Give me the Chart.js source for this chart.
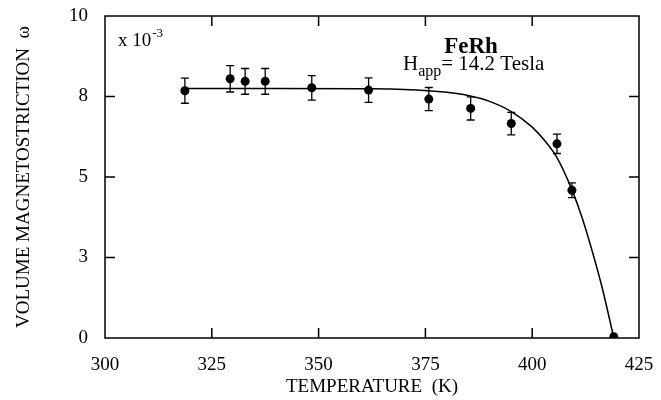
<!DOCTYPE html>
<html>
<head>
<meta charset="utf-8">
<script src="https://cdn.jsdelivr.net/npm/chart.js@4.4.1/dist/chart.umd.min.js"></script>
<style>
  html, body { margin: 0; padding: 0; background: #fff; }
  #wrap { width: 661px; height: 400px; position: relative; }
</style>
</head>
<body>
<div id="wrap"><canvas id="c" width="661" height="400"></canvas></div>
<script>
// Measured data points (temperature K, volume magnetostriction x10^-3, error)
const temps  = [318.7, 329.3, 332.8, 337.5, 348.4, 361.7, 375.8, 385.6, 395.1, 405.8, 409.3, 419.1];
const values = [7.68, 8.05, 7.97, 7.97, 7.77, 7.70, 7.42, 7.13, 6.66, 6.03, 4.59, 0.04];
const errors = [0.39, 0.41, 0.40, 0.40, 0.38, 0.38, 0.36, 0.36, 0.35, 0.30, 0.23, 0];

// Fitted curve
const curveT = [318.7, 340, 360, 370, 380, 385, 390, 395, 400, 403, 405.8, 409.3, 411.8, 414.6, 416.5, 418.95];
const curveV = [7.75, 7.75, 7.74, 7.72, 7.63, 7.53, 7.35, 7.04, 6.55, 6.12, 5.6, 4.6, 3.69, 2.44, 1.5, 0.09];

// Axis ticks
const xTicks = [300, 325, 350, 375, 400, 425];
const yTickValues = [0, 2.5, 5, 7.5, 10];
const yTickLabels = ['0', '3', '5', '8', '10'];

const FONT = "'Liberation Serif', 'Times New Roman', serif";

const decorPlugin = {
  id: 'decor',
  afterDatasetsDraw(chart) {
    const ctx = chart.ctx;
    const xs = chart.scales.x, ys = chart.scales.y;
    const a = chart.chartArea;
    ctx.save();
    ctx.strokeStyle = '#000';
    ctx.fillStyle = '#000';
    // error bars
    ctx.lineWidth = 1.3;
    for (let i = 0; i < temps.length; i++) {
      if (!errors[i]) continue;
      const px = xs.getPixelForValue(temps[i]);
      const top = ys.getPixelForValue(values[i] + errors[i]);
      const bot = ys.getPixelForValue(values[i] - errors[i]);
      ctx.beginPath();
      ctx.moveTo(px, top); ctx.lineTo(px, bot);
      ctx.moveTo(px - 4, top); ctx.lineTo(px + 4, top);
      ctx.moveTo(px - 4, bot); ctx.lineTo(px + 4, bot);
      ctx.stroke();
    }
    // frame
    ctx.lineWidth = 1.5;
    ctx.strokeRect(a.left, a.top, a.right - a.left, a.bottom - a.top);
    // inward ticks
    const tl = 10;
    ctx.beginPath();
    xTicks.forEach(v => {
      if (v === xs.min || v === xs.max) return;
      const px = xs.getPixelForValue(v);
      ctx.moveTo(px, a.bottom); ctx.lineTo(px, a.bottom - tl);
      ctx.moveTo(px, a.top); ctx.lineTo(px, a.top + tl);
    });
    yTickValues.forEach(v => {
      if (v === ys.min || v === ys.max) return;
      const py = ys.getPixelForValue(v);
      ctx.moveTo(a.left, py); ctx.lineTo(a.left + tl, py);
      ctx.moveTo(a.right, py); ctx.lineTo(a.right - tl, py);
    });
    ctx.stroke();
    // annotations
    ctx.textBaseline = 'alphabetic';
    ctx.textAlign = 'left';
    ctx.font = "19px " + FONT;
    ctx.fillText('x 10', 118, 46);
    const w1 = ctx.measureText('x 10').width;
    ctx.font = "13px " + FONT;
    ctx.fillText('-3', 119 + w1, 37);
    ctx.textAlign = 'center';
    ctx.font = "bold 23px " + FONT;
    ctx.fillText('FeRh', 471, 53);
    ctx.textAlign = 'left';
    let x0 = 403;
    ctx.font = "21px " + FONT;
    ctx.fillText('H', x0, 70);
    x0 += ctx.measureText('H').width;
    ctx.font = "16px " + FONT;
    ctx.fillText('app', x0, 76);
    x0 += ctx.measureText('app').width;
    ctx.font = "21px " + FONT;
    ctx.fillText('= 14.2 Tesla', x0, 70);
    ctx.restore();
  }
};

new Chart(document.getElementById('c'), {
  data: {
    datasets: [
      {
        type: 'line',
        data: curveT.map((t, i) => ({ x: t, y: curveV[i] })),
        borderColor: '#000',
        borderWidth: 1.5,
        pointRadius: 0,
        cubicInterpolationMode: 'monotone',
        fill: false
      },
      {
        type: 'scatter',
        data: temps.map((t, i) => ({ x: t, y: values[i] })),
        backgroundColor: '#000',
        borderColor: '#000',
        pointRadius: 4.5,
        pointBorderWidth: 0
      }
    ]
  },
  options: {
    responsive: false,
    animation: false,
    layout: { padding: { left: 0, right: 22, top: 0, bottom: 0 } },
    plugins: { legend: { display: false }, tooltip: { enabled: false } },
    scales: {
      x: {
        type: 'linear',
        min: 300, max: 425,
        afterBuildTicks: (s) => { s.ticks = xTicks.map(v => ({ value: v })); },
        afterFit: (s) => { s.height = 62; s.paddingLeft = 0; s.paddingRight = 0; },
        grid: { display: false, drawTicks: false },
        border: { display: false },
        ticks: { color: '#000', font: { family: FONT, size: 19 }, padding: 16, maxRotation: 0 },
        title: { display: true, text: 'TEMPERATURE  (K)', color: '#000', font: { family: FONT, size: 19 }, padding: { top: 0, bottom: 2 } }
      },
      y: {
        type: 'linear',
        min: 0, max: 10,
        afterBuildTicks: (s) => { s.ticks = yTickValues.map(v => ({ value: v })); },
        afterFit: (s) => { s.width = 105; s.paddingTop = 16; s.paddingBottom = 0; },
        grid: { display: false, drawTicks: false },
        border: { display: false },
        ticks: {
          color: '#000', font: { family: FONT, size: 19 }, padding: 17,
          callback: (v) => { const i = yTickValues.indexOf(v); return i >= 0 ? yTickLabels[i] : ''; }
        },
        title: { display: true, text: 'VOLUME MAGNETOSTRICTION  ω', color: '#000', font: { family: FONT, size: 19 }, padding: { top: 13, bottom: 0 } }
      }
    }
  },
  plugins: [decorPlugin]
});
</script>
</body>
</html>
